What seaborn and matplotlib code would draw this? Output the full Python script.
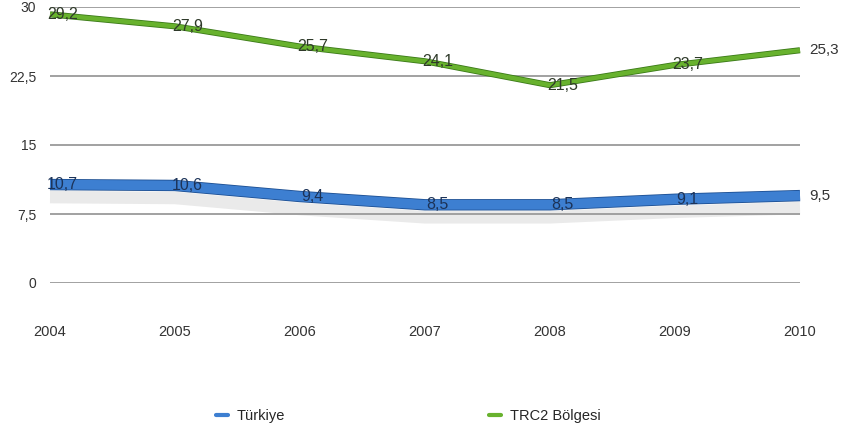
import matplotlib
matplotlib.use("Agg")
import matplotlib.pyplot as plt
import matplotlib.patheffects as pe
import seaborn as sns
import pandas as pd

years = [2004, 2005, 2006, 2007, 2008, 2009, 2010]
turkiye = [10.7, 10.6, 9.4, 8.5, 8.5, 9.1, 9.5]
trc2 = [29.2, 27.9, 25.7, 24.1, 21.5, 23.7, 25.3]
series_names = ["Türkiye", "TRC2 Bölgesi"]
y_ticks = [0, 7.5, 15, 22.5, 30]
y_tick_labels = ["0", "7,5", "15", "22,5", "30"]

df = pd.concat([
    pd.DataFrame({"yil": years, "deger": turkiye, "seri": series_names[0]}),
    pd.DataFrame({"yil": years, "deger": trc2, "seri": series_names[1]}),
])

colors = {"Türkiye": "#3d7fd1", "TRC2 Bölgesi": "#68b22e"}
edges = {"Türkiye": "#1d4f92", "TRC2 Bölgesi": "#3b7a18"}
widths = {"Türkiye": 7, "TRC2 Bölgesi": 3.2}
text_colors = {"Türkiye": "#1c3358", "TRC2 Bölgesi": "#2f3a2a"}

sns.set_style("white")
plt.rcParams["font.family"] = ["Liberation Sans", "DejaVu Sans"]

fig = plt.figure(figsize=(8.43, 4.34), dpi=100)
ax = fig.add_axes([50 / 843, 1 - 283 / 434, 750 / 843, 276 / 434])

# shadow under the zero line
ax.axhline(-0.7, color="#cfcfcf", lw=7, alpha=0.5, zorder=0)

sns.lineplot(data=df, x="yil", y="deger", hue="seri", palette=colors,
             ax=ax, legend=False, zorder=3)

for line, name in zip(ax.lines[1:], series_names):
    line.set_linewidth(widths[name])
    line.set_solid_capstyle("butt")
    line.set_clip_on(False)
    effects = [pe.Stroke(linewidth=widths[name] + 1.2, foreground=edges[name]), pe.Normal()]
    if name == "Türkiye":
        effects = [pe.SimpleLineShadow(offset=(0, -9), shadow_color="#a0a0a0", alpha=0.22,
                                       linewidth=9)] + effects
    line.set_path_effects(effects)

for name, vals in zip(series_names, [turkiye, trc2]):
    for i, (yr, v) in enumerate(zip(years, vals)):
        if i == len(years) - 1:
            ax.text(yr + 0.07, v, f"{v:.1f}".replace(".", ","), ha="left", va="center",
                    fontsize=11, color="#333333", clip_on=False)
        else:
            ax.text(yr + 0.1, v, f"{v:.1f}".replace(".", ","), ha="center", va="center",
                    fontsize=11.5, color=text_colors[name], zorder=5, clip_on=False)

ax.set_xlim(2004, 2010)
ax.set_ylim(0, 30)
ax.set_yticks(y_ticks)
ax.set_yticklabels(y_tick_labels)
ax.set_xticks(years)
ax.set_xticklabels([str(y) for y in years])
ax.grid(axis="y", color="#9a9a9a", lw=1.3)
ax.grid(axis="x", visible=False)
ax.set_axisbelow(True)
for s in ax.spines.values():
    s.set_visible(False)
ax.tick_params(axis="x", length=0, pad=30, labelsize=10.5, labelcolor="#333333")
ax.tick_params(axis="y", length=0, pad=10, labelsize=10, labelcolor="#333333")
ax.set_xlabel("")
ax.set_ylabel("")

handles = [plt.Line2D([], [], color=colors[n], lw=3) for n in series_names]
fig.legend(handles, series_names, loc="center left", bbox_to_anchor=(209 / 843, 0.042),
           ncol=2, frameon=False, handlelength=0.8, handletextpad=0.6,
           columnspacing=14.0, borderpad=0, fontsize=10.5)

fig.savefig("out.png", dpi=100)
